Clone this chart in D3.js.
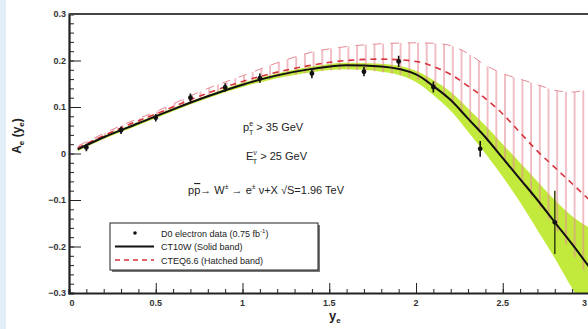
<!DOCTYPE html>
<html>
<head>
<meta charset="utf-8">
<script src="https://cdn.jsdelivr.net/npm/d3@7"></script>
<style>
  body { margin: 0; background: #fff; }
  svg { display: block; font-family: "Liberation Sans", Arial, sans-serif; }
</style>
</head>
<body>
<div id="chart"></div>
<script>
// D0 electron data
const yeData = [0.1, 0.3, 0.5, 0.7, 0.9, 1.1, 1.4, 1.7, 1.9, 2.1, 2.37, 2.8];
const aeData = [0.013, 0.05, 0.077, 0.12, 0.142, 0.162, 0.172, 0.176, 0.198, 0.143, 0.01, -0.148];
const aeErr = [0.008, 0.008, 0.008, 0.009, 0.009, 0.01, 0.01, 0.01, 0.012, 0.012, 0.017, 0.068];

// CT10W central + band
const ctX = [0.05, 0.2, 0.4, 0.6, 0.8, 1.0, 1.2, 1.4, 1.6, 1.8, 2.0, 2.1, 2.2, 2.3, 2.4, 2.5, 2.6, 2.7, 2.8, 2.9, 3.0];
const ctMid = [0.009, 0.035, 0.065, 0.095, 0.123, 0.148, 0.168, 0.182, 0.19, 0.187, 0.17, 0.145, 0.115, 0.075, 0.035, -0.01, -0.055, -0.1, -0.148, -0.195, -0.245];
const ctLo = [0.005, 0.031, 0.061, 0.091, 0.119, 0.143, 0.162, 0.175, 0.181, 0.176, 0.154, 0.126, 0.092, 0.047, 0.0, -0.05, -0.105, -0.165, -0.225, -0.29, -0.35];
const ctHi = [0.012, 0.038, 0.068, 0.098, 0.126, 0.152, 0.172, 0.187, 0.195, 0.193, 0.178, 0.158, 0.132, 0.097, 0.06, 0.02, -0.02, -0.06, -0.1, -0.135, -0.16];

// CTEQ6.6 central + band
const cqX = [0.05, 0.3, 0.5, 0.8, 1.0, 1.2, 1.4, 1.6, 1.8, 2.0, 2.1, 2.2, 2.3, 2.4, 2.5, 2.6, 2.7, 2.8, 2.9, 3.0];
const cqMid = [0.012, 0.055, 0.085, 0.13, 0.155, 0.175, 0.19, 0.2, 0.203, 0.198, 0.187, 0.17, 0.145, 0.118, 0.085, 0.045, 0.005, -0.03, -0.065, -0.1];
const cqHi = [0.016, 0.06, 0.09, 0.14, 0.167, 0.195, 0.218, 0.23, 0.236, 0.238, 0.237, 0.232, 0.215, 0.19, 0.172, 0.16, 0.148, 0.136, 0.132, 0.14];
const cqLo = [0.008, 0.048, 0.078, 0.12, 0.145, 0.163, 0.175, 0.18, 0.175, 0.16, 0.14, 0.11, 0.07, 0.03, -0.015, -0.06, -0.11, -0.16, -0.215, -0.27];

const xTicks = [0, 0.5, 1, 1.5, 2, 2.5, 3];
const yTicks = [-0.3, -0.2, -0.1, 0, 0.1, 0.2, 0.3];

const W = 588, H = 329;
const margin = { top: 14, right: 0, bottom: 36, left: 69 };
const plotW = 520.5;
const plotH = H - margin.top - margin.bottom;

const svg = d3.select('#chart').append('svg')
  .attr('width', W)
  .attr('height', H);

svg.append('rect').attr('width', W).attr('height', H).attr('fill', '#fff');
svg.append('rect').attr('width', 6).attr('height', H).attr('fill', '#e4eef8');

const x = d3.scaleLinear().domain([0, 3]).range([margin.left, margin.left + plotW]);
const y = d3.scaleLinear().domain([-0.3, 0.3]).range([margin.top + plotH, margin.top]);

const defs = svg.append('defs');
defs.append('clipPath').attr('id', 'plotClip')
  .append('rect')
  .attr('x', margin.left).attr('y', margin.top)
  .attr('width', plotW).attr('height', plotH);

const hatch = defs.append('pattern')
  .attr('id', 'hatch')
  .attr('patternUnits', 'userSpaceOnUse')
  .attr('x', margin.left)
  .attr('width', 8.7).attr('height', 10);
hatch.append('line')
  .attr('x1', 1).attr('x2', 1).attr('y1', 0).attr('y2', 10)
  .attr('stroke', '#e58a95').attr('stroke-width', 1.1);

const plot = svg.append('g').attr('clip-path', 'url(#plotClip)');

// CT10W green band
const ctRows = ctX.map((v, i) => ({ x: v, lo: ctLo[i], hi: ctHi[i], mid: ctMid[i] }));
plot.append('path')
  .datum(ctRows)
  .attr('fill', '#c2ea3c')
  .attr('d', d3.area().x(d => x(d.x)).y0(d => y(d.lo)).y1(d => y(d.hi)).curve(d3.curveMonotoneX));

// CTEQ6.6 hatched band
const cqRows = cqX.map((v, i) => ({ x: v, lo: cqLo[i], hi: cqHi[i], mid: cqMid[i] }));
plot.append('path')
  .datum(cqRows)
  .attr('fill', 'url(#hatch)')
  .attr('d', d3.area().x(d => x(d.x)).y0(d => y(d.lo)).y1(d => y(d.hi)).curve(d3.curveMonotoneX));

plot.append('path')
  .datum(cqRows)
  .attr('fill', 'none')
  .attr('stroke', '#e58a95')
  .attr('stroke-width', 1)
  .attr('stroke-dasharray', '8.7,8.7')
  .attr('stroke-dashoffset', -1)
  .attr('d', d3.line().x(d => x(d.x)).y(d => y(d.hi)).curve(d3.curveMonotoneX));

// CTEQ6.6 central, dashed red
plot.append('path')
  .datum(cqRows)
  .attr('fill', 'none')
  .attr('stroke', '#d8323c')
  .attr('stroke-width', 1.6)
  .attr('stroke-dasharray', '6,5')
  .attr('d', d3.line().x(d => x(d.x)).y(d => y(d.mid)).curve(d3.curveMonotoneX));

// CT10W central, solid black
plot.append('path')
  .datum(ctRows)
  .attr('fill', 'none')
  .attr('stroke', '#111')
  .attr('stroke-width', 2)
  .attr('d', d3.line().x(d => x(d.x)).y(d => y(d.mid)).curve(d3.curveMonotoneX));

// data points
const pts = yeData.map((v, i) => ({ x: v, y: aeData[i], e: aeErr[i] }));
const pg = plot.append('g');
pg.selectAll('line.err')
  .data(pts)
  .enter().append('line')
  .attr('class', 'err')
  .attr('x1', d => x(d.x)).attr('x2', d => x(d.x))
  .attr('y1', d => y(d.y - d.e)).attr('y2', d => y(d.y + d.e))
  .attr('stroke', (d, i) => i === pts.length - 1 ? '#3d4a12' : '#111')
  .attr('stroke-width', 1.6);
pg.selectAll('circle')
  .data(pts)
  .enter().append('circle')
  .attr('cx', d => x(d.x)).attr('cy', d => y(d.y))
  .attr('r', 2.4)
  .attr('fill', '#111');

// axes / ticks (ticks point inward like ROOT)
const axisColor = '#222';
const xAxis = svg.append('g').attr('transform', `translate(0,${margin.top + plotH})`);
xAxis.call(d3.axisBottom(x).tickValues(d3.range(0, 3.001, 0.1)).tickSize(-4).tickFormat(''));
xAxis.call(g => g.selectAll('.tick line').attr('stroke', axisColor));
xAxis.append('g').call(d3.axisBottom(x).tickValues(xTicks).tickSize(-10).tickFormat(''))
  .call(g => g.select('.domain').remove())
  .call(g => g.selectAll('.tick line').attr('stroke', axisColor));
xAxis.select('.domain').attr('stroke', axisColor).attr('stroke-width', 2.2);

xAxis.selectAll('text.lbl')
  .data(xTicks)
  .enter().append('text')
  .attr('class', 'lbl')
  .attr('x', d => d === 0 ? x(d) + 3 : (d === 3 ? W - 1 : x(d)))
  .attr('y', 13)
  .attr('text-anchor', d => d === 3 ? 'end' : 'middle')
  .attr('font-size', 9)
  .attr('font-weight', 'bold')
  .attr('fill', '#333')
  .text(d => d3.format('')(d));

const yAxis = svg.append('g').attr('transform', `translate(${margin.left},0)`);
yAxis.call(d3.axisLeft(y).tickValues(d3.range(-0.3, 0.3001, 0.02)).tickSize(-5).tickFormat(''));
yAxis.call(g => g.selectAll('.tick line').attr('stroke', axisColor));
yAxis.append('g').call(d3.axisLeft(y).tickValues(yTicks).tickSize(-12).tickFormat(''))
  .call(g => g.select('.domain').remove())
  .call(g => g.selectAll('.tick line').attr('stroke', axisColor));
yAxis.select('.domain').attr('stroke', axisColor).attr('stroke-width', 2.2);

yAxis.selectAll('text.lbl')
  .data(yTicks)
  .enter().append('text')
  .attr('class', 'lbl')
  .attr('x', -3)
  .attr('y', d => y(d) + 3)
  .attr('text-anchor', 'end')
  .attr('font-size', 9)
  .attr('font-weight', 'bold')
  .attr('fill', '#333')
  .text(d => d === 0 ? '0' : d3.format('.1f')(d));

// top frame
svg.append('line')
  .attr('x1', margin.left).attr('x2', W)
  .attr('y1', margin.top).attr('y2', margin.top)
  .attr('stroke', '#444').attr('stroke-width', 2.2);

// axis titles
const xt = svg.append('text')
  .attr('x', 329).attr('y', 320)
  .attr('font-size', 13).attr('font-weight', 'bold').attr('fill', '#222');
xt.append('tspan').text('y');
xt.append('tspan').attr('font-size', 8).attr('dy', 3).text('e');

const yt = svg.append('text')
  .attr('transform', 'translate(21,136) rotate(-90)')
  .attr('text-anchor', 'middle')
  .attr('font-size', 12).attr('font-weight', 'bold').attr('fill', '#222');
yt.append('tspan').text('A');
yt.append('tspan').attr('font-size', 8).attr('dy', 3).text('e');
yt.append('tspan').attr('dy', -3).text(' (y');
yt.append('tspan').attr('font-size', 8).attr('dy', 3).text('e');
yt.append('tspan').attr('dy', -3).text(')');

// annotations
const ann = svg.append('g').attr('font-size', 11).attr('fill', '#222');
const a1 = ann.append('text').attr('x', 243).attr('y', 131);
a1.append('tspan').text('p');
a1.append('tspan').attr('font-size', 7).attr('dy', -5).text('e');
a1.append('tspan').attr('font-size', 7).attr('dx', -4).attr('dy', 9).text('T');
a1.append('tspan').attr('dy', -4).text(' > 35 GeV');

const a2 = ann.append('text').attr('x', 246).attr('y', 160);
a2.append('tspan').text('E');
a2.append('tspan').attr('font-size', 7).attr('dy', -5).text('ν');
a2.append('tspan').attr('font-size', 7).attr('dx', -4).attr('dy', 9).text('T');
a2.append('tspan').attr('dy', -4).text(' > 25 GeV');

const a3 = ann.append('text').attr('x', 188).attr('y', 194);
a3.append('tspan').text('p');
a3.append('tspan').attr('text-decoration', 'overline').text('p');
a3.append('tspan').text('→ W');
a3.append('tspan').attr('font-size', 7).attr('dy', -5).text('±');
a3.append('tspan').attr('dy', 5).text(' → e');
a3.append('tspan').attr('font-size', 7).attr('dy', -5).text('±');
a3.append('tspan').attr('dy', 5).text(' ν+X  √S=1.96 TeV');

// legend
const lg = svg.append('g').attr('transform', 'translate(110,223)');
lg.append('rect').attr('x', 2).attr('y', 2).attr('width', 208).attr('height', 47).attr('fill', '#777');
lg.append('rect').attr('width', 208).attr('height', 47).attr('fill', '#fff').attr('stroke', '#222').attr('stroke-width', 1);

const legendItems = [
  { label: 'D0 electron data (0.75 fb', sup: '-1', tail: ')', kind: 'dot' },
  { label: 'CT10W (Solid band)', kind: 'solid' },
  { label: 'CTEQ6.6 (Hatched band)', kind: 'dashed' }
];
const li = lg.selectAll('g.item')
  .data(legendItems)
  .enter().append('g')
  .attr('class', 'item')
  .attr('transform', (d, i) => `translate(0,${10 + i * 13.5})`);
li.each(function(d) {
  const g = d3.select(this);
  if (d.kind === 'dot') {
    g.append('circle').attr('cx', 25).attr('cy', 0).attr('r', 1.8).attr('fill', '#111');
  } else if (d.kind === 'solid') {
    g.append('line').attr('x1', 5).attr('x2', 44).attr('y1', 0).attr('y2', 0)
      .attr('stroke', '#111').attr('stroke-width', 2);
  } else {
    g.append('line').attr('x1', 5).attr('x2', 44).attr('y1', 0).attr('y2', 0)
      .attr('stroke', '#d8323c').attr('stroke-width', 1.3).attr('stroke-dasharray', '5,4');
  }
  const t = g.append('text').attr('x', 51).attr('y', 3.5)
    .attr('font-size', 9).attr('fill', '#222');
  t.append('tspan').text(d.label);
  if (d.sup) {
    t.append('tspan').attr('font-size', 6).attr('dy', -4).text(d.sup);
    t.append('tspan').attr('dy', 4).text(d.tail);
  }
});
</script>
</body>
</html>
